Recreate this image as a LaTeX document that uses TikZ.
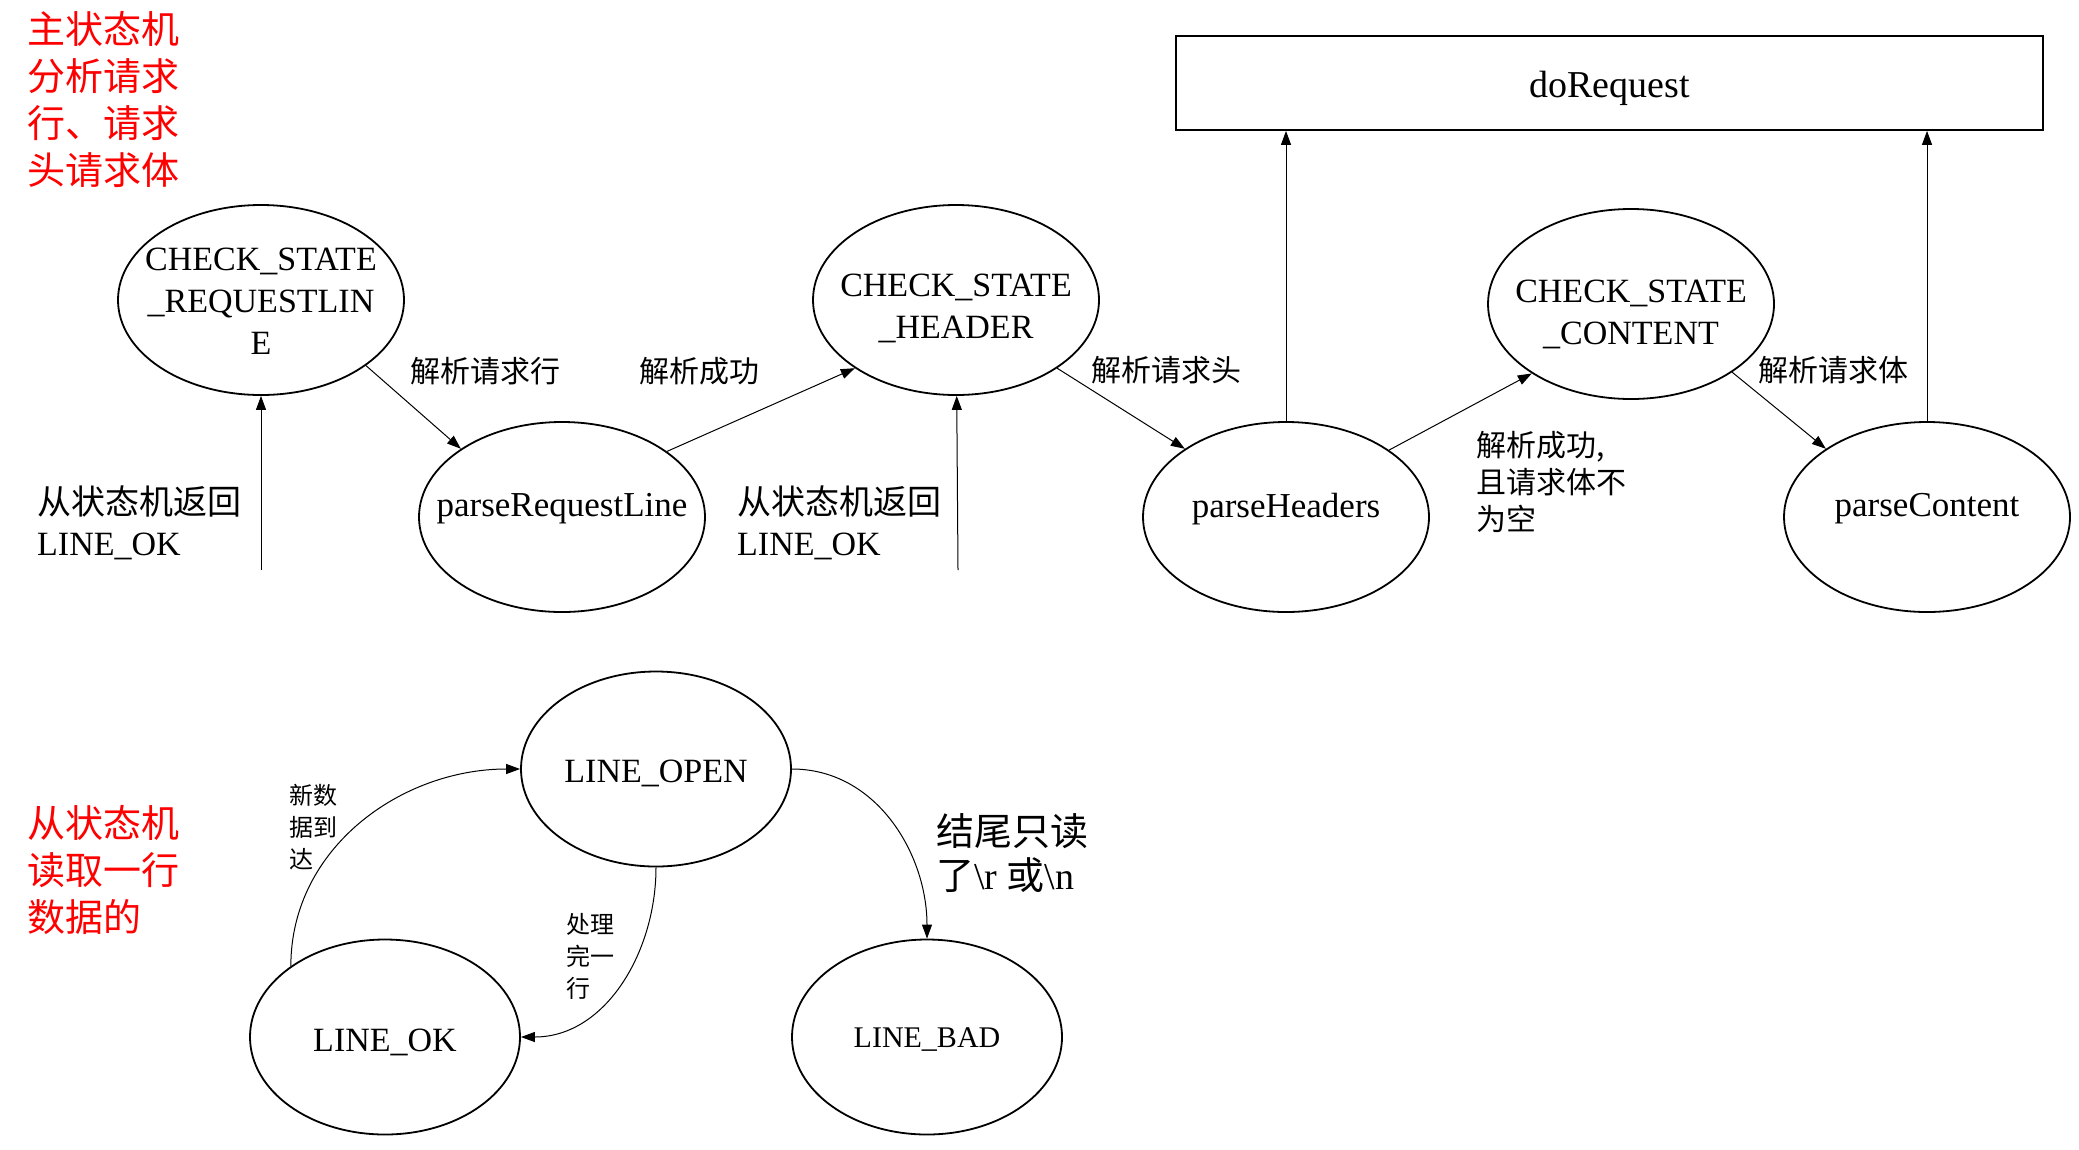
\documentclass[tikz,border=0pt]{standalone}
\usepackage{fontspec}
\setmainfont{Liberation Serif}
\newfontfamily\cjk{Noto Sans CJK SC}
\usepackage{tikz}
\usetikzlibrary{shapes.geometric, arrows.meta}

\begin{document}
\begin{tikzpicture}[x=1pt, y=-1pt,
  state/.style={draw, ellipse, line width=1.8pt, inner sep=0pt, minimum width=286pt, minimum height=190pt},
  lstate/.style={state, minimum width=270pt, minimum height=195pt},
  stxt/.style={align=center, inner sep=0pt, font=\fontsize{34}{42}\selectfont},
  lbl/.style={align=left, inner sep=0pt, font=\fontsize{30}{37}\selectfont\cjk},
  note/.style={align=left, inner sep=0pt, anchor=west, text=red, font=\fontsize{38}{47}\selectfont\cjk},
  arr/.style={line width=1pt, -{Triangle[length=14pt, width=10pt]}}]
  \useasboundingbox (0,0) rectangle (2079,1149);
  % main state machine
  \node[note] (title1) at (27,100) {主状态机\\分析请求\\行、请求\\头请求体};
  \node[state] (csr) at (261,300) {}; \node[stxt] (csrt) at ([yshift=-1pt]csr.center) {CHECK\_STATE\\\_REQUESTLIN\\E};
  \node[state] (prl) at (562,517) {}; \node[stxt, font=\fontsize{35}{42}\selectfont] (prlt) at ([yshift=8pt]prl.center) {parseRequestLine};
  \node[state] (csh) at (956,300) {}; \node[stxt] (csht) at ([yshift=-8pt]csh.center) {CHECK\_STATE\\\_HEADER};
  \node[state] (ph) at (1286,517) {}; \node[stxt, font=\fontsize{35}{42}\selectfont] (pht) at ([yshift=8pt]ph.center) {parseHeaders};
  \node[state] (csc) at (1631,304) {}; \node[stxt] (csct) at ([yshift=-10pt]csc.center) {CHECK\_STATE\\\_CONTENT};
  \node[state] (pc) at (1927,517) {}; \node[stxt, font=\fontsize{35}{42}\selectfont] (pct) at ([yshift=8pt]pc.center) {parseContent};
  \node[draw, line width=1.8pt, inner sep=0pt, minimum width=867pt, minimum height=94pt] (dr) at (1609.5,83) {};
  \node[stxt, font=\fontsize{38}{46}\selectfont] (drt) at ([yshift=-5pt]dr.center) {doRequest};

  \coordinate (rin) at (261,570); \coordinate (hin) at (958,570);
  \draw[arr] (rin) -- (csr); \draw[arr] (hin) -- (csh);
  \draw[arr] (csr.-32) -- (prl.146); \draw[arr] (prl.32) -- (csh.-146);
  \draw[arr] (csh.-34) -- (ph.146); \draw[arr] (ph.33) -- (csc.-145);
  \draw[arr] (csc.-34) -- (pc.146);
  \draw[arr] (ph.north) -- (ph.north |- dr.south); \draw[arr] (pc.north) -- (pc.north |- dr.south);

  \node[lbl, anchor=west, font=\fontsize{34}{41}\selectfont] (rback) at (37,523) {{\cjk 从状态机返回}\\LINE\_OK};
  \node[lbl, anchor=west, font=\fontsize{34}{41}\selectfont] (hback) at (737,523) {{\cjk 从状态机返回}\\LINE\_OK};
  \node[lbl] (l1) at (485,371) {解析请求行};
  \node[lbl] (l2) at (699,371) {解析成功};
  \node[lbl] (l3) at (1166,370) {解析请求头};
  \node[lbl, anchor=west] (l4) at (1476,482) {解析成功,\\且请求体不\\为空};
  \node[lbl] (l5) at (1833,370) {解析请求体};

  % line reading state machine
  \node[note] (title2) at (27,870) {从状态机\\读取一行\\数据的};
  \node[lstate] (lopen) at (656,769) {}; \node[stxt] (lopent) at ([yshift=-4pt]lopen.center) {LINE\_OPEN};
  \node[lstate] (lok) at (385,1037) {}; \node[stxt] (lokt) at ([yshift=-5pt]lok.center) {LINE\_OK};
  \node[lstate] (lbad) at (927,1037) {}; \node[stxt, font=\fontsize{30}{36}\selectfont] (lbadt) at ([yshift=-3pt]lbad.center) {LINE\_BAD};
  \draw[arr] (lok.143) to[out=90, in=180] (lopen.west);
  \draw[arr] (lopen.south) to[out=-90, in=0] (lok.east);
  \draw[arr] (lopen.east) to[out=0, in=90] (lbad.north);
  \node[lbl, anchor=west, font=\fontsize{24}{32}\selectfont\cjk] (l6) at (289,827) {新数\\据到\\达};
  \node[lbl, anchor=west, font=\fontsize{24}{32}\selectfont\cjk] (l7) at (566,956) {处理\\完一\\行};
  \node[lbl, anchor=west, font=\fontsize{38}{44}\selectfont] (l8) at (936,853) {{\cjk 结尾只读}\\{\cjk 了}\textbackslash r {\cjk 或}\textbackslash n};
\end{tikzpicture}
\end{document}
